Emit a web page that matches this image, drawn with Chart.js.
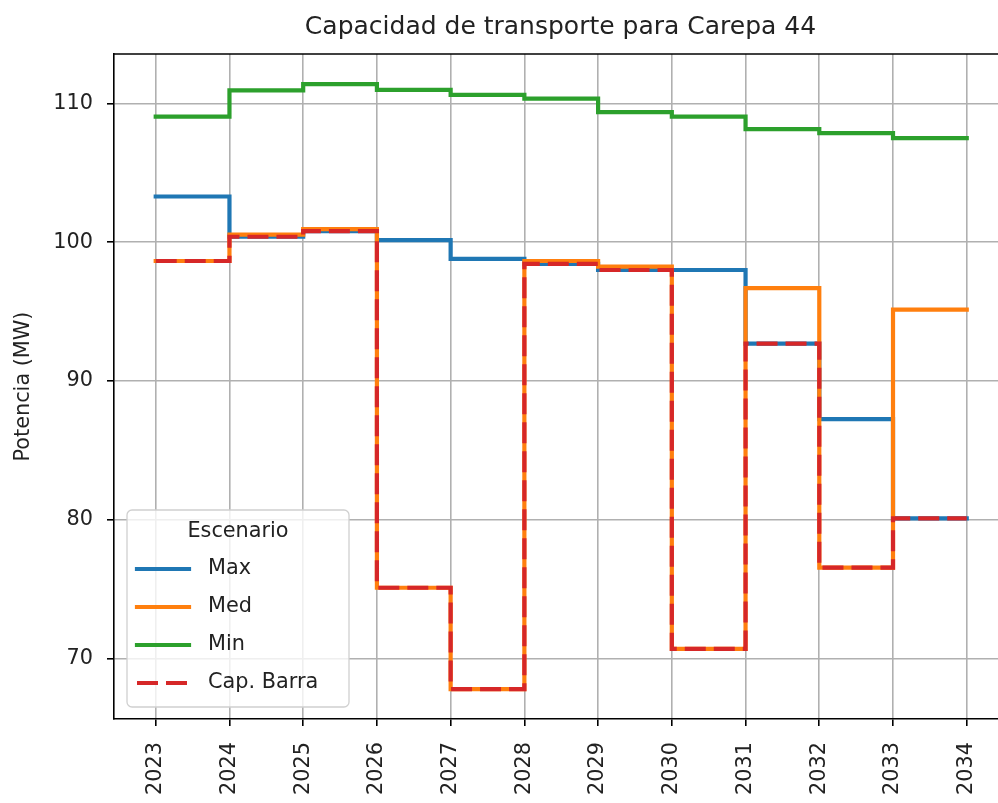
<!DOCTYPE html>
<html>
<head>
<meta charset="utf-8">
<script src="https://cdn.jsdelivr.net/npm/chart.js@4.4.0/dist/chart.umd.min.js"></script>
<style>
  html, body { margin: 0; padding: 0; background: #fff; overflow: hidden; }
  #wrap { width: 998px; height: 803px; }
</style>
</head>
<body>
<div id="wrap"><canvas id="capacidad" width="998" height="803"></canvas></div>
<script>
// años y escenarios
const years = [2023, 2024, 2025, 2026, 2027, 2028, 2029, 2030, 2031, 2032, 2033, 2034];
const yTicks = [70, 80, 90, 100, 110];

const dataMax = [103.3, 100.4, 100.8, 100.15, 98.8, 98.45, 98.0, 98.0, 92.7, 87.25, 80.1, 80.1];
const dataMed = [98.65, 100.55, 100.95, 75.1, 67.8, 98.65, 98.25, 70.7, 96.7, 76.55, 95.15, 95.15];
const dataMin = [109.05, 110.95, 111.4, 110.98, 110.62, 110.36, 109.38, 109.06, 108.15, 107.87, 107.5, 107.5];
const dataCapBarra = [98.65, 100.4, 100.8, 75.1, 67.8, 98.45, 98.0, 70.7, 92.7, 76.55, 80.1, 80.1];

const titulo = 'Capacidad de transporte para Carepa 44';
const FONT = "'DejaVu Sans', sans-serif";

function points(values) {
    return years.map((y, i) => ({ x: y, y: values[i] }));
}

// titulo centrado sobre los ejes y borde superior
const framePlugin = {
    id: 'frame',
    afterDatasetsDraw(chart) {
        const { ctx, chartArea: a } = chart;
        ctx.save();
        ctx.strokeStyle = '#000';
        ctx.lineWidth = 1.6;
        ctx.beginPath();
        ctx.moveTo(a.left, a.top);
        ctx.lineTo(a.right, a.top);
        ctx.stroke();

        // el eje original llega hasta ~1007 px (recortado a la derecha)
        ctx.fillStyle = '#222';
        ctx.font = '25px ' + FONT;
        ctx.textAlign = 'center';
        ctx.textBaseline = 'middle';
        ctx.fillText(titulo, (a.left + 1007) / 2, 27);
        ctx.restore();
    }
};

// leyenda dentro del area, abajo a la izquierda
const legendPlugin = {
    id: 'insideLegend',
    afterDraw(chart) {
        const ctx = chart.ctx;
        const a = chart.chartArea;
        const x0 = a.left + 13, y0 = a.bottom - 209, w = 222, h = 197;
        ctx.save();
        ctx.beginPath();
        ctx.roundRect(x0, y0, w, h, 5);
        ctx.fillStyle = 'rgba(255,255,255,0.8)';
        ctx.fill();
        ctx.strokeStyle = '#d0d0d0';
        ctx.lineWidth = 1.3;
        ctx.stroke();

        ctx.fillStyle = '#222';
        ctx.font = '20.8px ' + FONT;
        ctx.textBaseline = 'middle';
        ctx.textAlign = 'center';
        ctx.fillText('Escenario', x0 + 111, y0 + 22);

        ctx.textAlign = 'left';
        chart.data.datasets.forEach((ds, i) => {
            const cy = y0 + 59 + i * 38;
            ctx.beginPath();
            ctx.strokeStyle = ds.borderColor;
            ctx.lineWidth = 4.2;
            ctx.setLineDash(ds.borderDash || []);
            ctx.lineCap = ds.borderDash ? 'butt' : 'square';
            ctx.moveTo(x0 + 10, cy);
            ctx.lineTo(x0 + 62, cy);
            ctx.stroke();
            ctx.setLineDash([]);
            ctx.fillStyle = '#222';
            ctx.fillText(ds.label, x0 + 81, cy);
        });
        ctx.restore();
    }
};

const ctxCap = document.getElementById('capacidad');

new Chart(ctxCap, {
    type: 'line',
    data: {
        datasets: [{
            label: 'Max',
            data: points(dataMax),
            borderColor: '#1f77b4',
            order: 3
        }, {
            label: 'Med',
            data: points(dataMed),
            borderColor: '#ff7f0e',
            order: 2
        }, {
            label: 'Min',
            data: points(dataMin),
            borderColor: '#2ca02c',
            order: 1
        }, {
            label: 'Cap. Barra',
            data: points(dataCapBarra),
            borderColor: '#d62728',
            borderDash: [21, 8],
            borderCapStyle: 'butt',
            order: 0
        }]
    },
    options: {
        responsive: false,
        animation: false,
        layout: { padding: { left: 0, right: 0, top: 54, bottom: 0 } },
        elements: {
            line: {
                stepped: true,
                borderWidth: 4.2,
                fill: false,
                tension: 0,
                borderJoinStyle: 'miter',
                borderCapStyle: 'square'
            },
            point: { radius: 0, hoverRadius: 0 }
        },
        plugins: {
            legend: { display: false },
            tooltip: { enabled: false },
            title: { display: false }
        },
        scales: {
            x: {
                type: 'linear',
                min: 2022.434,
                max: 2034.424,
                afterBuildTicks: (scale) => {
                    scale.ticks = years.map(v => ({ value: v }));
                },
                afterFit: (scale) => {
                    scale.height = 84;
                    scale.paddingLeft = 0;
                    scale.paddingRight = 0;
                },
                grid: {
                    color: '#b0b0b0',
                    lineWidth: 1.6,
                    tickColor: '#000',
                    tickLength: 7,
                    tickWidth: 1.6
                },
                border: { color: '#000', width: 1.6 },
                ticks: {
                    color: '#222',
                    font: { family: FONT, size: 20.8 },
                    minRotation: 90,
                    maxRotation: 90,
                    padding: 16,
                    autoSkip: false,
                    callback: (v) => String(v)
                }
            },
            y: {
                min: 65.64,
                max: 113.57,
                afterBuildTicks: (scale) => {
                    scale.ticks = yTicks.map(v => ({ value: v }));
                },
                afterFit: (scale) => {
                    scale.width = 114;
                    scale.paddingTop = 0;
                    scale.paddingBottom = 0;
                },
                grid: {
                    color: '#b0b0b0',
                    lineWidth: 1.6,
                    tickColor: '#000',
                    tickLength: 7,
                    tickWidth: 1.6
                },
                border: { color: '#000', width: 1.6 },
                title: {
                    display: true,
                    text: 'Potencia (MW)',
                    color: '#222',
                    font: { family: FONT, size: 20.8, lineHeight: 1.2 },
                    padding: { top: 11, bottom: 0 }
                },
                ticks: {
                    color: '#222',
                    font: { family: FONT, size: 20.8 },
                    padding: 14
                }
            }
        }
    },
    plugins: [framePlugin, legendPlugin]
});
</script>
</body>
</html>
